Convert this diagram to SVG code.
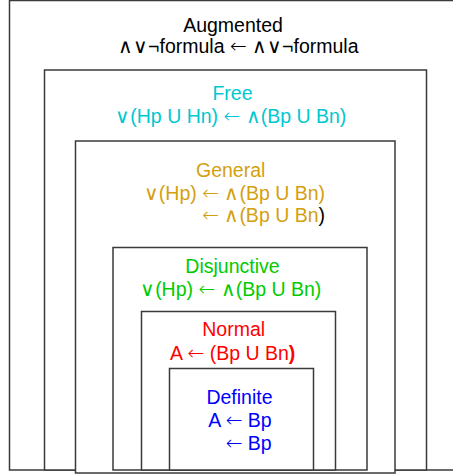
<svg xmlns="http://www.w3.org/2000/svg" width="453" height="475" viewBox="0 0 453 475">
<style>
rect.box { fill: #ffffff; stroke: #3a3a3a; stroke-width: 1.5; }
text { font-family: "Liberation Sans", Arial, "DejaVu Sans", sans-serif; font-size: 19.5px; }
tspan.arr { font-family: "DejaVu Sans", sans-serif; font-size: 20px; font-weight: 200; }
tspan.op { font-family: "DejaVu Sans", sans-serif; font-weight: 200; }
.mid { text-anchor: middle; }
.end { text-anchor: end; }
.aug { fill: #000000; }
.free { fill: #00C8D0; }
.gen { fill: #D4A00F; }
.dis { fill: #00CC00; }
.nor { fill: #FF0000; }
.def { fill: #0000FF; }
</style>
<rect width="453" height="475" fill="#ffffff"/>
<g id="augmented">
  <rect class="box" x="9.5" y="0.5" width="460" height="469.5"/>
  <text class="aug mid" x="233" y="31.5">Augmented</text>
  <text class="aug mid" x="238.3" y="53"><tspan class="op">∧∨</tspan>¬formula <tspan class="arr">←</tspan> <tspan class="op">∧∨</tspan>¬formula</text>
</g>
<g id="free">
  <rect class="box" x="44.5" y="70" width="382" height="400"/>
  <text class="free mid" x="232.5" y="100">Free</text>
  <text class="free mid" x="230.8" y="122.5"><tspan class="op">∨</tspan>(Hp U Hn) <tspan class="arr">←</tspan> <tspan class="op">∧</tspan>(Bp U Bn)</text>
</g>
<g id="general">
  <rect class="box" x="75.5" y="141" width="319.5" height="332"/>
  <text class="gen mid" x="230.7" y="176.7">General</text>
  <text class="gen end" x="325" y="200"><tspan class="op">∨</tspan>(Hp) <tspan class="arr">←</tspan> <tspan class="op">∧</tspan>(Bp U Bn)</text>
  <text class="gen end" x="325" y="222"><tspan class="arr">←</tspan> <tspan class="op">∧</tspan>(Bp U Bn<tspan fill="#000000">)</tspan></text>
</g>
<g id="disjunctive">
  <rect class="box" x="113" y="247.5" width="254" height="222.5"/>
  <text class="dis mid" x="232.5" y="273">Disjunctive</text>
  <text class="dis mid" x="230.7" y="296"><tspan class="op">∨</tspan>(Hp) <tspan class="arr">←</tspan> <tspan class="op">∧</tspan>(Bp U Bn)</text>
</g>
<g id="normal">
  <rect class="box" x="141.5" y="311.5" width="194" height="158.5"/>
  <text class="nor mid" x="233.7" y="336">Normal</text>
  <text class="nor mid" x="232.7" y="360">A <tspan class="arr">←</tspan> (Bp U Bn<tspan font-weight="bold">)</tspan></text>
</g>
<g id="definite">
  <rect class="box" x="169.5" y="368.5" width="144" height="101.5"/>
  <text class="def mid" x="239.5" y="404">Definite</text>
  <text class="def end" x="271.7" y="427">A <tspan class="arr">←</tspan> Bp</text>
  <text class="def end" x="271.7" y="449.5"><tspan class="arr">←</tspan> Bp</text>
</g>
<g id="connectors"></g>
</svg>
